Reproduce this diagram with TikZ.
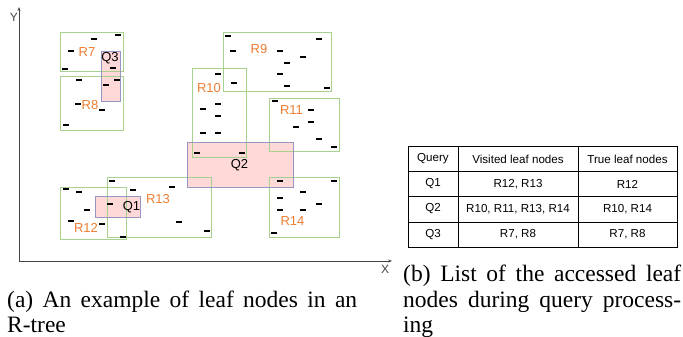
\documentclass[tikz,border=0pt]{standalone}
\usepackage{fontspec}
\setmainfont{Liberation Serif}
\setsansfont{Liberation Sans}
\usetikzlibrary{arrows.meta}
\definecolor{leafgreen}{RGB}{169,209,142}
\definecolor{rorange}{RGB}{237,125,49}
\definecolor{qpink}{RGB}{255,216,216}
\definecolor{qborder}{RGB}{150,150,195}
\definecolor{axisgray}{RGB}{70,70,70}
\tikzset{
  leafbox/.style={draw=leafgreen,line width=1pt},
  qfill/.style={fill=qpink,draw=none},
  qline/.style={draw=qborder,line width=0.8pt},
  leafdash/.style={line width=2pt,black},
  rlabel/.style={text=rorange,font=\sffamily\fontsize{13}{13}\selectfont,inner sep=0pt},
  qlabel/.style={text=black,font=\sffamily\fontsize{13}{13}\selectfont,inner sep=0pt},
  axlabel/.style={text=axisgray,font=\sffamily\fontsize{12}{12}\selectfont,inner sep=0pt},
  cell/.style={font=\sffamily\fontsize{11.6}{12}\selectfont,inner sep=0pt,text=black},
  capt/.style={font=\fontsize{23.5}{25.5}\selectfont,inner sep=0pt,anchor=base west},
  axisline/.style={draw=axisgray,line width=1pt,-{Stealth[length=4pt,width=3pt]}}
}
\begin{document}
\begin{tikzpicture}[x=1pt,y=-1pt]
\useasboundingbox (0,0) rectangle (683,337);
% query fills
\fill[qfill] (101,51) rectangle (120,101);
\fill[qfill] (187,142) rectangle (293,187);
\fill[qfill] (95,196) rectangle (140,217);
% leaf boxes
\draw[leafbox] (60,33) rectangle (123,72);
\draw[leafbox] (60,77) rectangle (123,130);
\draw[leafbox] (223,33) rectangle (331,92);
\draw[leafbox] (192,69) rectangle (246,157);
\draw[leafbox] (269,98) rectangle (339,151);
\draw[leafbox] (60,187) rectangle (126,239);
\draw[leafbox] (107,177) rectangle (211,237);
\draw[leafbox] (269,177) rectangle (339,237);
% query borders
\draw[qline] (101,51) rectangle (120,101);
\draw[qline] (187,142) rectangle (293,187);
\draw[qline] (95,196) rectangle (140,217);
% points
\foreach \px/\py in {94/39,118/35,71/51,65/69,113/68,
  79/80,117/80,106/85,78/104,102/110,66/125,
  228/36,233/51,280/51,319/39,303/57,287/63,280/74,234/83,287/86,327/88,
  218/74,218/104,203/109,218/116,203/133,218/133,197/153,242/153,
  275/101,311/110,311/122,296/127,319/139,334/147,
  66/189,79/192,87/210,71/221,102/224,123/237,
  112/181,133/190,172/187,110/204,179/222,207/231,
  280/181,334/181,303/192,280/198,319/204,280/210,303/210,274/233}
  \draw[leafdash] (\px-3,\py) -- (\px+3,\py);
% labels
\node[rlabel] (r7) at (87,52.5) {R7};
\node[rlabel] (r8) at (90,105) {R8};
\node[rlabel] (r9) at (259,49) {R9};
\node[rlabel] (r10) at (209,88) {R10};
\node[rlabel] (r11) at (291.5,110) {R11};
\node[rlabel] (r12) at (86,227.5) {R12};
\node[rlabel] (r13) at (158,199.5) {R13};
\node[rlabel] (r14) at (292.5,221) {R14};
\node[qlabel] (q1) at (131.5,207) {Q1};
\node[qlabel] (q2) at (239.5,165.5) {Q2};
\node[qlabel] (q3) at (110,58) {Q3};
% axes
\coordinate (origin) at (19,261);
\coordinate (ytip) at (19,7);
\coordinate (xtip) at (392,261);
\draw[axisline] (origin) -- (ytip);
\draw[axisline] (origin) -- (xtip);
\node[axlabel] (ylab) at (14,17.5) {Y};
\node[axlabel] (xlab) at (385,269) {X};
% table
\draw[black,line width=0.9pt] (408,146) rectangle (677,247);
\foreach \ty in {171.5,196.5,222} \draw[black,line width=0.9pt] (408,\ty) -- (677,\ty);
\foreach \tx in {458,578} \draw[black,line width=0.9pt] (\tx,146) -- (\tx,247);
\node[cell] (h1) at (433,159) {Query};
\node[cell] (h2) at (518,159) {Visited leaf nodes};
\node[cell] (h3) at (627.5,159) {True leaf nodes};
\node[cell] (a1) at (433,184) {Q1};
\node[cell] (a2) at (518,184) {R12, R13};
\node[cell] (a3) at (627.5,184) {R12};
\node[cell] (b1) at (433,209) {Q2};
\node[cell] (b2) at (518,209) {R10, R11, R13, R14};
\node[cell] (b3) at (627.5,209) {R10, R14};
\node[cell] (c1) at (433,234.5) {Q3};
\node[cell] (c2) at (518,234.5) {R7, R8};
\node[cell] (c3) at (627.5,234.5) {R7, R8};
% captions
\node[capt] (capa1) at (7,307) {\makebox[350pt][s]{(a) An example of leaf nodes in an}};
\node[capt] (capa2) at (7,332) {R-tree};
\node[capt] (capb1) at (403,281.5) {\makebox[278pt][s]{(b) List of the accessed leaf}};
\node[capt] (capb2) at (403,307) {\makebox[278pt][s]{nodes during query process-}};
\node[capt] (capb3) at (403,332) {ing};
\end{tikzpicture}
\end{document}
